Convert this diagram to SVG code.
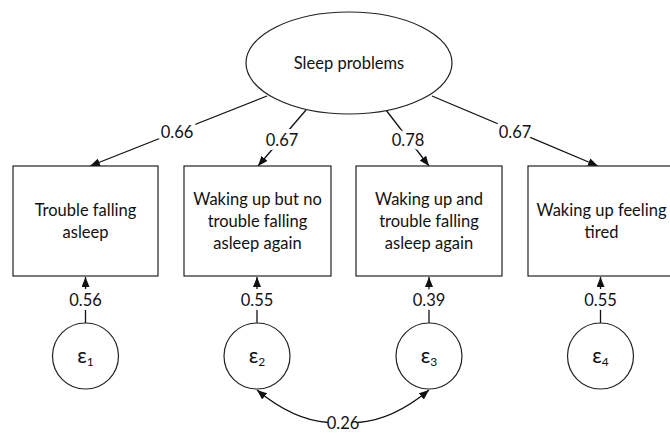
<svg xmlns="http://www.w3.org/2000/svg" width="670" height="433" viewBox="0 0 670 433">
<defs>
<marker id="ah" markerUnits="userSpaceOnUse" markerWidth="10" markerHeight="8" refX="10" refY="4" orient="auto-start-reverse">
<path d="M0,0 L10,4 L0,8 z" fill="#111"/>
</marker>
<style>
.shape{fill:#fff;stroke:#222;stroke-width:1.2}
.edge{fill:none;stroke:#111;stroke-width:1.3;marker-end:url(#ah)}
.lbl{font-family:Lato,"Open Sans",sans-serif;font-size:16.5px;fill:#111;text-anchor:middle}
.num{font-family:Lato,"Open Sans",sans-serif;font-size:16.5px;fill:#111;text-anchor:middle;stroke:#fff;stroke-width:8;paint-order:stroke;stroke-linejoin:round}
.eps{font-family:Lato,"Open Sans",sans-serif;font-size:21px;fill:#111;text-anchor:middle}
</style>
</defs>
<rect width="670" height="433" fill="#fff"/>
<g id="connectors">
<path class="edge" d="M267,96 L90,166"/>
<path class="edge" d="M306,110 L258,166"/>
<path class="edge" d="M386,110 L429,166"/>
<path class="edge" d="M432,96 L598,166"/>
<path class="edge" d="M85.5,323 L85.5,277"/>
<path class="edge" d="M257,323 L257,277"/>
<path class="edge" d="M429,323 L429,277"/>
<path class="edge" d="M600.5,323 L600.5,277"/>
<path class="edge" d="M328,422.5 Q293,420 257,390" />
<path class="edge" d="M358,422.5 Q393,420 429,390" />
<text class="num" x="177" y="138">0.66</text>
<text class="num" x="282" y="146">0.67</text>
<text class="num" x="408" y="146">0.78</text>
<text class="num" x="515" y="138">0.67</text>
<text class="num" x="85.5" y="306">0.56</text>
<text class="num" x="257" y="306">0.55</text>
<text class="num" x="429" y="306">0.39</text>
<text class="num" x="600.5" y="306">0.55</text>
<text class="lbl" x="343" y="429">0.26</text>
</g>
<g id="sleep">
<ellipse class="shape" cx="349" cy="63" rx="103" ry="51"/>
<text class="lbl" x="349" y="69">Sleep problems</text>
</g>
<g id="box1">
<rect class="shape" x="13" y="166" width="145" height="110"/>
<text class="lbl" x="85.5" y="216">Trouble falling</text>
<text class="lbl" x="85.5" y="238">asleep</text>
</g>
<g id="box2">
<rect class="shape" x="184" y="166" width="147" height="110"/>
<text class="lbl" x="257.5" y="205">Waking up but no</text>
<text class="lbl" x="257.5" y="227">trouble falling</text>
<text class="lbl" x="257.5" y="249">asleep again</text>
</g>
<g id="box3">
<rect class="shape" x="356" y="166" width="146" height="110"/>
<text class="lbl" x="429" y="205">Waking up and</text>
<text class="lbl" x="429" y="227">trouble falling</text>
<text class="lbl" x="429" y="249">asleep again</text>
</g>
<g id="box4">
<rect class="shape" x="528" y="166" width="146" height="110"/>
<text class="lbl" x="601.5" y="216">Waking up feeling</text>
<text class="lbl" x="601.5" y="238">tired</text>
</g>
<g id="e1">
<circle class="shape" cx="85.5" cy="356" r="33"/>
<text class="eps" x="85.5" y="363">ε<tspan font-size="12" dy="3">1</tspan></text>
</g>
<g id="e2">
<circle class="shape" cx="257" cy="356" r="33"/>
<text class="eps" x="257" y="363">ε<tspan font-size="12" dy="3">2</tspan></text>
</g>
<g id="e3">
<circle class="shape" cx="429" cy="356" r="33"/>
<text class="eps" x="429" y="363">ε<tspan font-size="12" dy="3">3</tspan></text>
</g>
<g id="e4">
<circle class="shape" cx="600.5" cy="356" r="33"/>
<text class="eps" x="600.5" y="363">ε<tspan font-size="12" dy="3">4</tspan></text>
</g>
</svg>
